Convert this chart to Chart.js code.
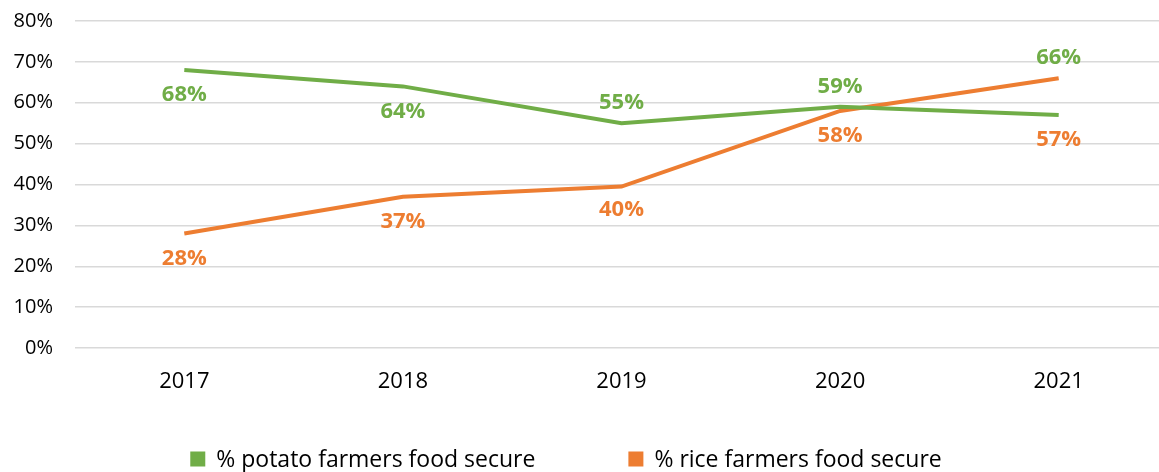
<!DOCTYPE html>
<html>
<head>
<meta charset="utf-8">
<script src="https://cdn.jsdelivr.net/npm/chart.js@4.4.1/dist/chart.umd.min.js"></script>
<style>
    html, body { margin: 0; padding: 0; background: #fff; overflow: hidden; }
    #wrap { width: 1168px; height: 472px; }
</style>
</head>
<body>
<div id="wrap"><canvas id="foodChart"></canvas></div>
<script>
const years = ['2017', '2018', '2019', '2020', '2021'];
const potatoValues = [68, 64, 55, 59, 57];
const riceValues = [28, 37, 39.5, 58, 66];
// etiquetas tal como aparecen en el original
const potatoLabels = [68, 64, 55, 59, 66];
const riceLabels = [28, 37, 40, 58, 57];
const potatoLabelPos = ['below', 'below', 'above', 'above', 'above'];
const riceLabelPos = ['below', 'below', 'below', 'below', 'below'];
const yTicks = [0, 10, 20, 30, 40, 50, 60, 70, 80];

const fuente = '"Open Sans", "Noto Sans", sans-serif';

// etiquetas de datos
const etiquetasPlugin = {
    id: 'etiquetas',
    afterDatasetsDraw(chart) {
        const ctx = chart.ctx;
        const xs = chart.scales.x;
        const ys = chart.scales.y;
        ctx.save();
        ctx.font = 'bold 22px ' + fuente;
        ctx.textAlign = 'center';
        ctx.textBaseline = 'middle';
        chart.data.datasets.forEach(ds => {
            ctx.fillStyle = ds.borderColor;
            ds.etiquetas.forEach((v, i) => {
                const x = xs.getPixelForValue(i);
                const y = ys.getPixelForValue(v) + (ds.posiciones[i] === 'above' ? -20 : 25);
                ctx.fillText(v + '%', x, y);
            });
        });
        ctx.restore();
    }
};

// leyenda dibujada abajo
const leyendaPlugin = {
    id: 'leyenda',
    afterDraw(chart) {
        const ctx = chart.ctx;
        const caja = 15, hueco = 11, separacion = 93;
        ctx.save();
        ctx.font = '23px ' + fuente;
        ctx.textBaseline = 'middle';
        const anchos = chart.data.datasets.map(ds => ctx.measureText(ds.label).width);
        const total = anchos.reduce((a, w) => a + caja + hueco + w, 0) + separacion * (anchos.length - 1);
        let x = 566 - total / 2;
        const y = 459;
        chart.data.datasets.forEach((ds, i) => {
            ctx.fillStyle = ds.borderColor;
            ctx.fillRect(x, y - caja / 2, caja, caja);
            x += caja + hueco;
            ctx.fillStyle = '#000';
            ctx.fillText(ds.label, x, y + 1);
            x += anchos[i] + separacion;
        });
        ctx.restore();
    }
};

new Chart(document.getElementById('foodChart'), {
    type: 'line',
    data: {
        labels: years,
        datasets: [{
            label: '% potato farmers food secure',
            data: potatoValues,
            etiquetas: potatoLabels,
            posiciones: potatoLabelPos,
            borderColor: '#70AD47',
            backgroundColor: '#70AD47',
            borderWidth: 4,
            pointRadius: 0,
            pointHoverRadius: 0,
            tension: 0
        }, {
            label: '% rice farmers food secure',
            data: riceValues,
            etiquetas: riceLabels,
            posiciones: riceLabelPos,
            borderColor: '#ED7D31',
            backgroundColor: '#ED7D31',
            borderWidth: 4,
            pointRadius: 0,
            pointHoverRadius: 0,
            tension: 0
        }]
    },
    options: {
        responsive: true,
        maintainAspectRatio: false,
        animation: false,
        layout: { autoPadding: false, padding: { top: 21, left: 13, right: 0, bottom: 79 } },
        scales: {
            x: {
                offset: true,
                grid: { display: false, drawTicks: false },
                border: { display: false },
                ticks: { color: '#000', font: { family: fuente, size: 22 }, padding: 21 },
                afterFit: axis => {
                    axis.height = 45;
                    axis.paddingLeft = 0;
                    axis.paddingRight = 0;
                }
            },
            y: {
                min: 0,
                max: 80,
                afterBuildTicks: axis => { axis.ticks = yTicks.map(v => ({ value: v })); },
                grid: { color: '#d9d9d9', lineWidth: 1.5, drawTicks: false },
                border: { display: false },
                ticks: {
                    color: '#000',
                    font: { family: fuente, size: 20 },
                    padding: 22,
                    callback: v => v + '%'
                },
                afterFit: axis => {
                    axis.width = 62;
                    axis.paddingTop = 0;
                    axis.paddingBottom = 0;
                }
            }
        },
        plugins: {
            tooltip: { enabled: false },
            legend: { display: false }
        }
    },
    plugins: [etiquetasPlugin, leyendaPlugin]
});
</script>
</body>
</html>
